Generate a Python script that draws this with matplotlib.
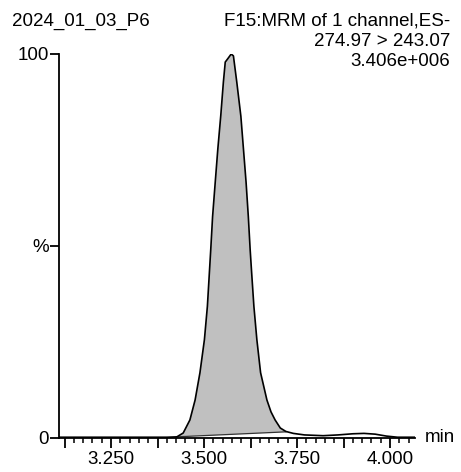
import matplotlib
matplotlib.use("Agg")
import matplotlib.pyplot as plt
from matplotlib.ticker import MultipleLocator, FixedLocator, FuncFormatter

plt.rcParams['font.family'] = ['Liberation Sans', 'DejaVu Sans']

# --- data -------------------------------------------------------------
time_min = [3.110, 3.300, 3.400, 3.427, 3.444, 3.462, 3.476, 3.489, 3.501, 3.509,
            3.518, 3.523, 3.530, 3.537, 3.545, 3.552, 3.557, 3.564, 3.573, 3.579,
            3.588, 3.599, 3.606, 3.613, 3.619, 3.624, 3.628, 3.634, 3.642, 3.652,
            3.669, 3.680, 3.691, 3.705, 3.720, 3.740, 3.770, 3.820, 3.860, 3.900,
            3.930, 3.960, 3.990, 4.020, 4.070]
intensity_pct = [0.2, 0.2, 0.2, 0.3, 1.3, 4.7, 9.9, 17.0, 25.6, 34.3,
                 49.0, 57.7, 66.5, 75.2, 84.0, 92.7, 97.9, 98.8, 100.0, 99.5,
                 92.7, 83.8, 75.2, 66.6, 57.7, 49.0, 43.0, 34.3, 25.6, 17.0,
                 9.9, 6.8, 4.7, 2.6, 1.7, 1.2, 0.8, 0.6, 0.8, 1.1,
                 1.2, 1.0, 0.5, 0.2, 0.2]
peak_baseline_t = [3.427, 3.720]
peak_baseline_y = [0.3, 1.6]

x_tick_values = [3.25, 3.50, 3.75, 4.00]
y_tick_values = [0, 50, 100]
y_tick_labels = ['0', '%', '100']

title_left = "2024_01_03_P6"
title_right = ["F15:MRM of 1 channel,ES-", "274.97 > 243.07", "3.406e+006"]

FS = 13.5

# --- figure -----------------------------------------------------------
fig = plt.figure(figsize=(4.61, 4.72), dpi=100)
ax = fig.add_axes([59/461, 1 - 438/472, (415 - 59)/461, (438 - 54)/472])

# shaded peak area between curve and sloped baseline
px = [peak_baseline_t[0]]
py = [peak_baseline_y[0]]
for t, v in zip(time_min, intensity_pct):
    if peak_baseline_t[0] < t < peak_baseline_t[1]:
        px.append(t)
        py.append(v)
px.append(peak_baseline_t[1])
py.append(peak_baseline_y[1])
ax.fill(px, py, color='#c0c0c0', lw=0, zorder=1)
ax.plot(peak_baseline_t, peak_baseline_y, color='#333333', lw=0.9, zorder=2)
ax.plot(time_min, intensity_pct, color='black', lw=1.2, zorder=3)

ax.set_xlim(3.1102, 4.067)
ax.set_ylim(0, 100)

for s in ['top', 'right']:
    ax.spines[s].set_visible(False)
for s in ['left', 'bottom']:
    ax.spines[s].set_linewidth(1.3)
    ax.spines[s].set_color('black')

ax.xaxis.set_major_locator(MultipleLocator(0.125))
ax.xaxis.set_minor_locator(MultipleLocator(0.025))


def xfmt(v, pos):
    for tv in x_tick_values:
        if abs(v - tv) < 1e-6:
            return f"{tv:.3f}"
    return ""


ax.xaxis.set_major_formatter(FuncFormatter(xfmt))
ax.yaxis.set_major_locator(FixedLocator(y_tick_values))
ax.set_yticklabels(y_tick_labels)

ax.tick_params(axis='x', which='major', direction='out', length=7, width=1.3,
               labelsize=FS, pad=2)
ax.tick_params(axis='x', which='minor', direction='out', length=3.5, width=1.1)
ax.tick_params(axis='y', which='major', direction='out', length=6.5, width=1.3,
               labelsize=FS, pad=1)

fig.text(425/461, 1 - 437/472, "min", fontsize=FS, ha='left', va='center')
fig.text(12/461, 1 - 21/472, title_left, fontsize=FS, ha='left', va='center')
for i, line in enumerate(title_right):
    fig.text(450/461, 1 - (21 + i * 20)/472, line, fontsize=FS, ha='right', va='center')

fig.savefig("out.png", dpi=100)
